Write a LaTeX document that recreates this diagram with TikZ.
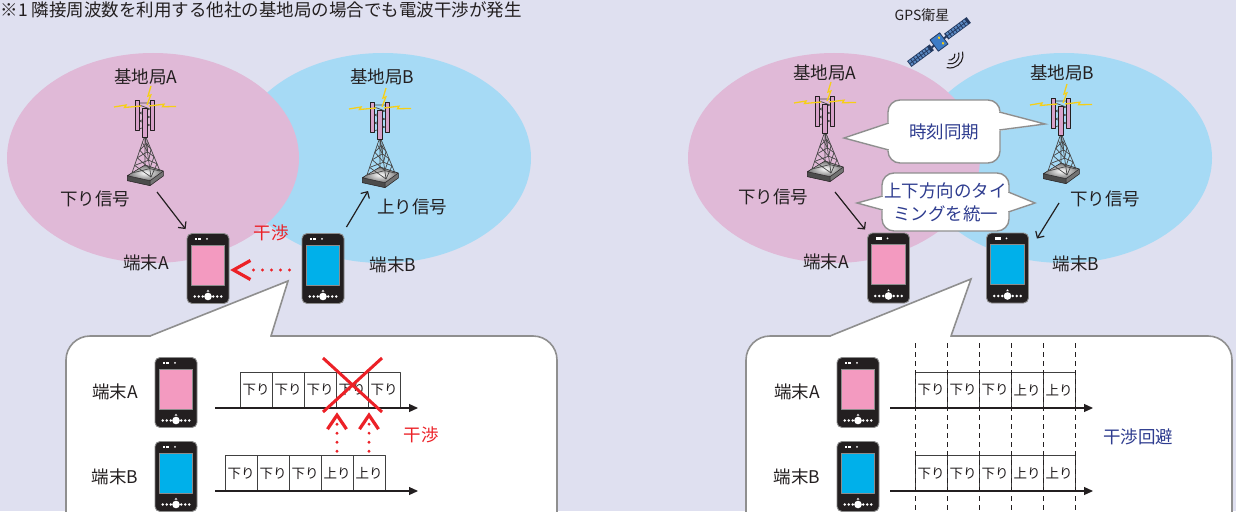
\documentclass[tikz,border=0pt]{standalone}
\usepackage{fontspec}
\setmainfont{Noto Sans CJK JP}
\usetikzlibrary{arrows.meta,calc}

\definecolor{paper}{HTML}{DFE0F0}
\definecolor{cellA}{HTML}{E0B9D7}
\definecolor{cellB}{HTML}{A6DAF5}
\definecolor{ink}{HTML}{231F20}
\definecolor{alarm}{HTML}{EC2127}
\definecolor{navyink}{HTML}{2E3C8F}
\definecolor{rimgray}{HTML}{8F8F8F}
\definecolor{screenA}{HTML}{F39AC0}
\definecolor{screenB}{HTML}{00B0EA}
\definecolor{bodyblk}{HTML}{231F20}
\definecolor{panelpink}{HTML}{D8A2CA}
\definecolor{boltyellow}{HTML}{F6CF16}
\definecolor{solar}{HTML}{22385F}
\definecolor{solarcell}{HTML}{5A87BF}
\definecolor{satbody}{HTML}{3D7CC6}

% screen, status icons and keys of a handset, drawn inside its body
\newcommand\handsetface[1]{%
  \begin{scope}[shift={(path picture bounding box.center)}, sharp corners]
    \fill[#1] (-16.7,-23.5) rectangle (16.7,16.5);
    \draw[black!45, line width=0.8pt] (-16.7,-23.5) rectangle (16.7,16.5);
    \fill[white] (-12.8,-31) rectangle (-10.8,-28.4);
    \fill[white] (-10.2,-31) rectangle (-7,-28.4);
    \fill[white] (-1,-29.7) circle (1pt);
    \foreach \dx in {-13.3,-9.2,-5.2,5.2,9.2,13.3}
      \fill[white] (\dx,28) circle (1.4pt);
    \fill[white] (0,28) circle (3.8pt);
    \fill[white] (-1.4,23.2) -- (1.4,23.2) -- (0,21.2) -- cycle;
  \end{scope}}

\tikzset{
  lab/.style={text=ink, font=\fontsize{17.5}{21}\selectfont, inner sep=0pt},
  warn/.style={lab, text=alarm},
  navy/.style={lab, text=navyink},
  handset/.style={rectangle, rounded corners=5pt, draw=black!45, line width=0.9pt,
    fill=bodyblk, minimum width=42pt, minimum height=70pt, inner sep=0pt,
    path picture={\handsetface{#1}}},
  slot/.style={draw=black!75, line width=0.7pt, fill=white, minimum width=32pt,
    minimum height=36pt, inner sep=0pt, text=ink, font=\fontsize{13.5}{14}\selectfont},
  axis/.style={ink, line width=1.2pt, -{Triangle[length=9pt,width=8pt]}},
  sig/.style={ink, line width=1.2pt, -{Straight Barb[length=5pt,width=10pt]}},
  reddots/.style={alarm, line width=3.2pt, line cap=round, dash pattern=on 0pt off 9pt},
  chevron/.style={alarm, line width=3.2pt, line cap=butt, line join=miter},
  calloutline/.style={draw=rimgray, line width=1.6pt, fill=white},
  tailline/.style={rimgray, line width=1.4pt, line join=miter},
  bubble/.style={draw=rimgray, line width=1.4pt, fill=white, rounded corners=12pt,
    inner sep=0pt, text=navyink, align=center, font=\fontsize{17.5}{23}\selectfont},
  guide/.style={ink, line width=0.8pt, dash pattern=on 5pt off 4pt},
  boltline/.style={boltyellow, line width=1.3pt, line join=miter},
  lattice/.style={black!72, line width=0.7pt},
  mast/.pic={
    % base slab
    \fill[black!70] (-17.7,0.7) -- (5,5.7) -- (5,10.7) -- (-17.7,5.7) -- cycle;
    \fill[black!55] (5,5.7) -- (18.3,-4) -- (18.3,1) -- (5,10.7) -- cycle;
    \shade[inner color=white, outer color=black!55]
      (-17.7,0.7) -- (0,-10) -- (18.3,-4) -- (5,5.7) -- cycle;
    \draw[ink, line width=0.5pt]
      (-17.7,0.7) -- (0,-10) -- (18.3,-4) -- (18.3,1) -- (5,10.7) -- (-17.7,5.7) -- cycle
      (-17.7,0.7) -- (5,5.7) -- (18.3,-4) (5,5.7) -- (5,10.7);
    % lattice tower
    \draw[lattice] (0,-40) -- (-13,-2) (0,-40) -- (15,-4) (0,-40) -- (0,-9) (0,-40) -- (6,2);
    \foreach \t/\u in {0.2/0.4,0.4/0.6,0.6/0.8,0.8/1.0}{
      \draw[lattice] ($(0,-40)!\t!(-13,-2)$) -- ($(0,-40)!\u!(6,2)$)
                     ($(0,-40)!\u!(-13,-2)$) -- ($(0,-40)!\t!(6,2)$)
                     ($(0,-40)!\t!(6,2)$) -- ($(0,-40)!\u!(15,-4)$)
                     ($(0,-40)!\u!(6,2)$) -- ($(0,-40)!\t!(15,-4)$);
    }
    % antenna mast and panels
    \draw[lattice] (-5.7,-72) -- (5,-72)
      (-5.7,-70) -- (5,-66) -- (-5.7,-62) -- (5,-58) -- (-5.7,-54) -- (5,-50) -- (-5.7,-46);
    \filldraw[fill=panelpink, draw=ink, line width=0.5pt] (-10,-75) rectangle (-5.7,-45);
    \filldraw[fill=panelpink, draw=ink, line width=0.5pt] (5,-75) rectangle (9.3,-45);
    \filldraw[fill=panelpink, draw=ink, line width=0.5pt] (-2.3,-67) rectangle (2.3,-38);
    % radio flashes
    \draw[boltline] (-31,-68) -- (-19,-70) -- (-20.5,-67.5) -- (-4,-69);
    \draw[boltline] (4,-69) -- (19,-70.8) -- (17.5,-68.2) -- (31,-68.6);
    \draw[boltline] (6,-89) -- (3,-79) -- (5.8,-80) -- (2,-70);
  }
}

\begin{document}
\begin{tikzpicture}[x=1pt, y=-1pt, line join=round]
\useasboundingbox (0,0) rectangle (1236,511);
\clip (0,0) rectangle (1236,511);
\fill[paper] (0,0) rectangle (1236,511);

% ---------------- note ----------------
\node[lab, anchor=west] (note) at (0.5,10) {※1 隣接周波数を利用する他社の基地局の場合でも電波干渉が発生};

% ---------------- left: cells ----------------
\fill[cellB] (383,158) ellipse [x radius=148pt, y radius=105pt];
\fill[cellA] (153,158) ellipse [x radius=146pt, y radius=105pt];

\pic (tA) at (145,175) {mast};
\pic (tB) at (380,177) {mast};

\node[lab] (hA) at (146,77) {基地局A};
\node[lab] (hB) at (382,77) {基地局B};
\node[lab] (dnA) at (95,199) {下り信号};
\node[lab] (upB) at (412,207) {上り信号};
\node[lab] (mA) at (146,263) {端末A};
\node[lab] (mB) at (393,265) {端末B};
\node[warn] (ifr) at (271,233) {干渉};

% left callout
\filldraw[calloutline, rounded corners=24pt] (66,336) rectangle (557,570);
\fill[white] (150,336) -- (288,281) -- (271,336) -- cycle;
\fill[white] (151,334.7) rectangle (270,337.3);
\draw[tailline, line width=1.6pt] (150,336) -- (288,281) -- (271,336);

\node[handset=screenA] (pA) at (208,268.5) {};
\node[handset=screenB] (pB) at (323,268.5) {};

\coordinate (sA) at (157,192);
\coordinate (rB) at (368,191);
\draw[sig] (sA) -- ($(pA.north west)+(-1,-4)$);
\draw[sig] ($(pB.north east)+(2,-6)$) -- (rB);

% interference from terminal B to terminal A
\draw[reddots] ($(pB.west)+(-12,1.5)$) -- ($(pA.east)+(16,1.5)$);
\draw[chevron] ($(pA.east)+(21,-8)$) -- ($(pA.east)+(4,1.5)$) -- ($(pA.east)+(21,11)$);

% timing frames, left
\node[lab] (kA) at (115,392) {端末A};
\node[lab] (kB) at (115,477) {端末B};
\node[handset=screenA] (cA) at (176,392.5) {};
\node[handset=screenB] (cB) at (176,476.5) {};

\node[slot] (a1) at (256,390) {下り};
\node[slot] (a2) at (288,390) {下り};
\node[slot] (a3) at (320,390) {下り};
\node[slot] (a4) at (352,390) {下り};
\node[slot] (a5) at (384,390) {下り};
\coordinate (axA0) at (215,408);
\coordinate (axA1) at (418,408);
\draw[axis] (axA0) -- (axA1);

\node[slot] (b1) at (241,473.5) {下り};
\node[slot] (b2) at (273,473.5) {下り};
\node[slot] (b3) at (305,473.5) {下り};
\node[slot] (b4) at (337,473.5) {上り};
\node[slot] (b5) at (369,473.5) {上り};
\coordinate (axB0) at (215,491);
\coordinate (axB1) at (418,491);
\draw[axis] (axB0) -- (axB1);

\draw[alarm, line width=3pt] (323,358) -- (382,412) (382,358) -- (323,412);
\foreach \s in {b4,b5}{
  \draw[reddots] ($(\s.north)+(0,-4)$) -- ++(0,-28);
  \draw[chevron] ($(\s.north)+(-9.5,-26)$) -- ($(\s.north)+(0,-40)$) -- ($(\s.north)+(9.5,-26)$);
}
\node[warn] (ifr2) at (421,435) {干渉};

% ---------------- right: cells ----------------
\fill[cellB] (1064,158) ellipse [x radius=148pt, y radius=105pt];
\fill[cellA] (834,158) ellipse [x radius=146pt, y radius=105pt];

% GPS satellite
\begin{scope}[shift={(939,42)}, rotate=36.5]
  \fill[solar] (-37,-3.6) rectangle (-9,3.6);
  \fill[solar] (9,-3.6) rectangle (37,3.6);
  \foreach \x in {-36,-32.5,...,-13}{
    \fill[solarcell] (\x,-2.8) rectangle ++(2.4,2.3);
    \fill[solarcell] (\x,0.5) rectangle ++(2.4,2.3);}
  \foreach \x in {10.5,14,...,34}{
    \fill[solarcell] (\x,-2.8) rectangle ++(2.4,2.3);
    \fill[solarcell] (\x,0.5) rectangle ++(2.4,2.3);}
  \fill[solar] (-9,-1) rectangle (9,1);
  \filldraw[fill=satbody, draw=solar, line width=0.8pt] (-6,-7) rectangle (6,7);
  \fill[boltyellow] (2.5,-3.5) circle (1.4pt) (2.5,3.5) circle (1.4pt);
\end{scope}
\foreach \r in {5,9,13}
  \draw[ink, line width=1.1pt] ([shift={(15:\r pt)}]950,55) arc[start angle=15, end angle=-105, radius=\r pt];
\node[lab, font=\fontsize{14}{16}\selectfont] (gps) at (922,15) {GPS衛星};

\pic (tA2) at (825,171) {mast};
\pic (tB2) at (1061,173) {mast};

\node[lab] (hA2) at (825,73) {基地局A};
\node[lab] (hB2) at (1062,73) {基地局B};
\node[lab] (dnA2) at (773,197) {下り信号};
\node[lab] (dnB2) at (1105,199) {下り信号};
\node[lab] (mA2) at (826,262) {端末A};
\node[lab] (mB2) at (1076,264) {端末B};

% speech bubbles between the base stations
\node[bubble, minimum width=112pt, minimum height=63pt] (sync) at (944,131.5) {時刻同期};
\fill[white] (890,122) -- (844,138) -- (890,151) -- cycle;
\draw[tailline] (888.7,123) -- (844,138) -- (888.7,150);
\fill[white] (998,111) -- (1045,124) -- (998,131) -- cycle;
\draw[tailline] (999.3,112) -- (1045,124) -- (999.3,130);

\node[bubble, minimum width=127pt, minimum height=58pt] (unify) at (945.5,202) {上下方向のタイ\\ミングを統一};
\fill[white] (884,195) -- (857,203) -- (884,211) -- cycle;
\draw[tailline] (882.7,196) -- (857,203) -- (882.7,210);
\fill[white] (1007,191) -- (1035,203) -- (1007,213) -- cycle;
\draw[tailline] (1008.3,192) -- (1035,203) -- (1008.3,212);

% right callout
\filldraw[calloutline, rounded corners=24pt] (746,336) rectangle (1232,570);
\fill[white] (830,336) -- (971,279) -- (951,336) -- cycle;
\fill[white] (831,334.7) rectangle (950,337.3);
\draw[tailline, line width=1.6pt] (830,336) -- (971,279) -- (951,336);

\node[handset=screenA] (qA) at (888.5,268) {};
\node[handset=screenB] (qB) at (1007.5,268) {};

\coordinate (sA2) at (835,192);
\coordinate (sB2) at (1059,203);
\draw[sig] (sA2) -- ($(qA.north west)+(-2,-3)$);
\draw[sig] (sB2) -- ($(qB.north east)+(8,6)$);

% timing frames, right
\node[lab] (kA2) at (797,392) {端末A};
\node[lab] (kB2) at (797,477) {端末B};
\node[handset=screenA] (dA) at (858,392.5) {};
\node[handset=screenB] (dB) at (858,476.5) {};

\node[slot] (e1) at (931,390) {下り};
\node[slot] (e2) at (963,390) {下り};
\node[slot] (e3) at (995,390) {下り};
\node[slot] (e4) at (1027,390) {上り};
\node[slot] (e5) at (1059,390) {上り};
\coordinate (axC0) at (890,408);
\coordinate (axC1) at (1093,408);
\draw[axis] (axC0) -- (axC1);

\node[slot] (f1) at (931,473.5) {下り};
\node[slot] (f2) at (963,473.5) {下り};
\node[slot] (f3) at (995,473.5) {下り};
\node[slot] (f4) at (1027,473.5) {上り};
\node[slot] (f5) at (1059,473.5) {上り};
\coordinate (axD0) at (890,491);
\coordinate (axD1) at (1093,491);
\draw[axis] (axD0) -- (axD1);

\foreach \gx in {915,947,979,1011,1043,1075}
  \draw[guide] (\gx,343) -- (\gx,515);

\node[navy] (avoid) at (1138,437) {干渉回避};
\end{tikzpicture}
\end{document}
